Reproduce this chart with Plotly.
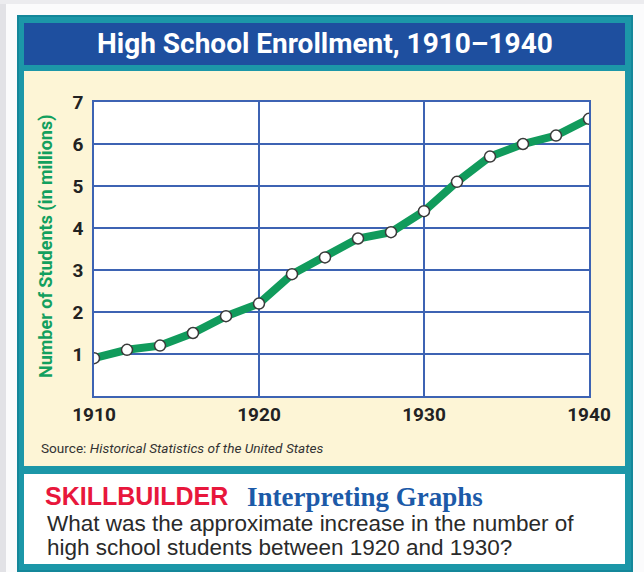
import plotly.graph_objects as go

years = [1910, 1912, 1914, 1916, 1918, 1920, 1922, 1924, 1926, 1928,
         1930, 1932, 1934, 1936, 1938, 1940]
students = [0.9, 1.1, 1.2, 1.5, 1.9, 2.2, 2.9, 3.3, 3.75, 3.9,
            4.4, 5.1, 5.7, 6.0, 6.2, 6.6]
x_ticks = [1910, 1920, 1930, 1940]
y_ticks = [1, 2, 3, 4, 5, 6, 7]

W, H = 644, 572
def px(x):
    return x / W
def py(y):
    return 1 - y / H

COND = "Liberation Sans Narrow, Roboto, Arial, sans-serif"
SANS = "Liberation Sans, Arial, sans-serif"

fig = go.Figure()
fig.add_trace(go.Scatter(
    x=years, y=students, mode="lines+markers",
    line=dict(color="#119b5c", width=8),
    marker=dict(size=11, color="white", line=dict(color="#3a3a3a", width=1.5)),
    hoverinfo="x+y", showlegend=False,
))

shapes = []
def rect(x0, y0, x1, y1, color):
    shapes.append(dict(type="rect", xref="paper", yref="paper",
                       x0=px(x0), x1=px(x1), y0=py(y1), y1=py(y0),
                       fillcolor=color, layer="below", line=dict(width=0)))

# page background strips
rect(0, 0, 6, 572, "#e2e2e6")
rect(0, 0, 644, 4, "#ececef")
# teal frame
rect(17, 15, 633, 572, "#14879a")
rect(19, 17, 631, 570, "#1c97a8")
# title bar
rect(24, 23, 625, 65, "#1e4f9f")
# cream panel
rect(24, 71, 625, 466, "#fdf5d6")
# white question box
rect(24, 474, 625, 564, "#ffffff")
# plot background
rect(94, 102, 589, 396, "#ffffff")

fig.update_layout(
    width=W, height=H,
    margin=dict(l=0, r=0, t=0, b=0, pad=0),
    paper_bgcolor="#fbfbfc",
    plot_bgcolor="rgba(0,0,0,0)",
    shapes=shapes,
    xaxis=dict(
        domain=[px(94), px(589)], range=[1910, 1940],
        tickvals=x_ticks, ticktext=[str(v) for v in x_ticks],
        showgrid=True, gridcolor="#3d63b3", gridwidth=1.5,
        showline=True, linecolor="#3d63b3", linewidth=1.5, mirror=True,
        ticks="",
        tickfont=dict(family=COND, size=19, color="#222222", weight="bold"),
        zeroline=False, fixedrange=True, automargin=False,
    ),
    yaxis=dict(
        domain=[py(396), py(102)], range=[0, 7],
        tickvals=y_ticks,
        showgrid=True, gridcolor="#3d63b3", gridwidth=1.5,
        showline=True, linecolor="#3d63b3", linewidth=1.5, mirror=True,
        ticks="outside", ticklen=5, tickcolor="rgba(0,0,0,0)",
        tickfont=dict(family=COND, size=19, color="#222222", weight="bold"),
        zeroline=False, fixedrange=True, automargin=False,
    ),
)

ann = []
def add(text, x, y, font, xanchor="left", angle=0):
    ann.append(dict(text=text, x=px(x), y=py(y), xref="paper", yref="paper",
                    showarrow=False, xanchor=xanchor, yanchor="middle",
                    textangle=angle, font=font))

add("<b>High School Enrollment, 1910–1940</b>", 325, 44,
    dict(family=COND, size=28, color="white"), xanchor="center")
add("<b>Number of Students (in millions)</b>", 46, 247,
    dict(family=COND, size=18, color="#12a05e"), xanchor="center", angle=-90)
add("Source: <i>Historical Statistics of the United States</i>", 39, 448,
    dict(family=COND, size=13.6, color="#333333"))
add("<b>SKILLBUILDER</b>", 43, 496,
    dict(family=SANS, size=25, color="#e8173c"))
add("<b>Interpreting Graphs</b>", 245, 497,
    dict(family="Liberation Serif, DejaVu Serif, serif", size=27, color="#1c5aa8"))
add("What was the approximate increase in the number of", 45, 523,
    dict(family=SANS, size=22.5, color="#2a2a2a"))
add("high school students between 1920 and 1930?", 45, 547,
    dict(family=SANS, size=22.5, color="#2a2a2a"))
fig.update_layout(annotations=ann)

fig.write_html(
    "out.html",
    config={"displayModeBar": False},
    post_script="document.body.style.margin='0';document.body.style.padding='0';",
)
